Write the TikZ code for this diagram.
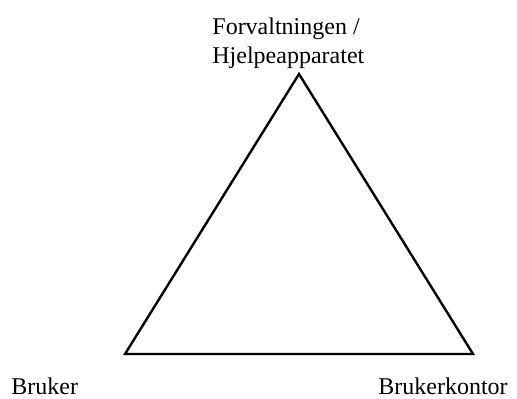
\documentclass[tikz,border=0pt]{standalone}
\usepackage{fontspec}
\setmainfont{Liberation Serif}
\usetikzlibrary{positioning}

\begin{document}
\begin{tikzpicture}[
  x=0.5pt, y=0.5pt,
  lbl/.style={inner sep=0pt, font=\fontsize{12}{14.5}\selectfont, align=left},
  side/.style={line width=1.2pt, draw=black}
]
\useasboundingbox (0,0) rectangle (517,398);
\coordinate (top) at (299,324);
\coordinate (left) at (125,44);
\coordinate (right) at (473,44);

\node[lbl, anchor=south west] (forv) at (212,329)
  {Forvaltningen /\\Hjelpeapparatet};
\node[lbl, anchor=base west] (bruker) at (11,4) {Bruker};
\node[lbl, anchor=base west] (kontor) at (378,4) {Brukerkontor};

\draw[side] (top) -- (left) -- (right) -- cycle;
\end{tikzpicture}
\end{document}
